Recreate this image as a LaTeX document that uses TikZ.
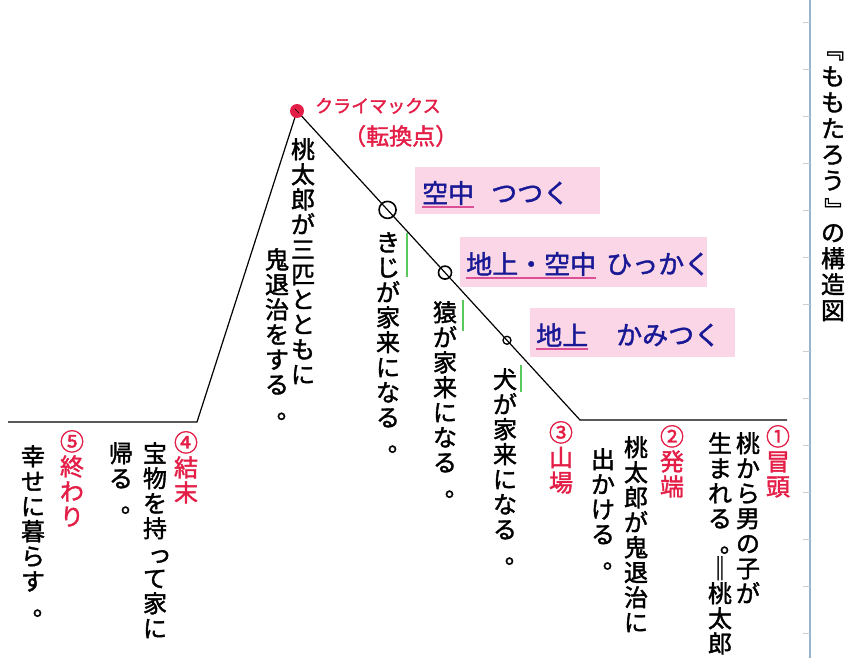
\documentclass[tikz,border=0pt]{standalone}
\usepackage{fontspec}
\usepackage{graphicx}
\usetikzlibrary{calc}
\newfontfamily\jpv{Noto Sans CJK JP}[FakeBold=1.6]
\newfontfamily\jph{Noto Sans CJK JP}[FakeBold=1.6]
\definecolor{hred}{RGB}{228,30,70}
\definecolor{hblue}{RGB}{25,25,150}
\definecolor{hpink}{RGB}{250,214,230}
\definecolor{uline}{RGB}{220,80,150}
\definecolor{hgreen}{RGB}{90,200,90}
\definecolor{pageline}{RGB}{150,180,205}
\definecolor{tickc}{RGB}{200,205,210}
% small kana in vertical writing: shifted to the right
\newcommand\sk[1]{\makebox[1em][l]{\hspace{0.2em}\raisebox{0em}[0.8em][0pt]{#1}}}
% full stop in vertical writing: right half of its cell
\newcommand\vp{\makebox[1em][l]{\hspace{0.5em}｡}}
% rotated brackets for vertical writing
\newcommand\vbo{\raisebox{0pt}[0.8em][0pt]{\rotatebox[origin=c]{-90}{『}}}
\newcommand\vbc{\raisebox{0pt}[0.8em][0pt]{\rotatebox[origin=c]{-90}{』}}}
\ExplSyntaxOn
\NewDocumentCommand\vstack{m}{
  \seq_clear:N \l_tmpa_seq
  \tl_map_inline:nn {#1} { \seq_put_right:Nn \l_tmpa_seq {##1} }
  \seq_use:Nn \l_tmpa_seq {\\}
}
\ExplSyntaxOff
\begin{document}
\begin{tikzpicture}[x=1pt,y=-1pt,
  vt/.style={anchor=north, align=center, inner sep=0pt, text=black,
    font=\jpv\fontsize{24}{25}\selectfont},
  hdr/.style={vt, text=hred},
  ttl/.style={vt, font=\jpv\fontsize{24}{26}\selectfont},
  pinkbox/.style={fill=hpink, draw=none, inner sep=0pt, anchor=north west},
  btext/.style={anchor=west, inner sep=0pt, text=hblue, font=\jph\fontsize{26}{26}\selectfont},
  ul/.style={uline, line width=1.6pt},
  gline/.style={hgreen, line width=2.2pt},
  curve/.style={black, line width=1.2pt},
  ring/.style={circle, draw=black, line width=1.6pt, inner sep=0pt},
  redtext/.style={anchor=west, inner sep=0pt, text=hred}
]
\useasboundingbox (0,0) rectangle (847,658);
\fill[white] (0,0) rectangle (847,658);

% page line with ticks
\draw[pageline, line width=1.5pt] (810,0) -- (810,658);
\foreach \yy in {22,69,116,163,210,257,304,351,398,445,492,539,586,633}
  \draw[tickc, line width=0.8pt] (803,\yy) -- (810,\yy);

% plot line
\coordinate (L0) at (8,422);
\coordinate (L1) at (197,422);
\coordinate (P) at (297,111);
\coordinate (R1) at (580,420);
\coordinate (R0) at (787,420);
\draw[curve] (L0) -- (L1) -- (P) -- (R1) -- (R0);

\node[circle, fill=hred, minimum size=14pt, inner sep=0pt] (peak) at (P) {};
\draw[black, line width=0.6pt] ($(peak.center)+(-2,-2)$) -- ($(peak.center)+(2,2)$);

\node[ring, minimum size=17pt] (c1) at ($(P)!0.32!(R1)$) {};
\node[ring, minimum size=13pt] (c2) at ($(P)!0.523!(R1)$) {};
\node[ring, minimum size=8pt, line width=1.3pt] (c3) at ($(P)!0.742!(R1)$) {};

% climax label
\node[redtext, font=\jph\fontsize{18}{18}\selectfont] (climax) at (315,106) {クライマックス};
\node[redtext, font=\jph\fontsize{23}{23}\selectfont] (tenkan) at (343,136) {（転換点）};

% pink boxes
\node[pinkbox, minimum width=185pt, minimum height=47pt] (box1) at (415,167) {};
\node[pinkbox, minimum width=247pt, minimum height=50pt] (box2) at (460,237) {};
\node[pinkbox, minimum width=205pt, minimum height=49pt] (box3) at (530,308) {};

\node[btext] (b1a) at (422,193) {空中};
\node[btext] (b1b) at (491,193) {つつく};
\draw[ul] ($(b1a.south west)+(0,2)$) -- ($(b1a.south east)+(0,2)$);

\node[btext] (b2a) at (466,264) {地上・空中};
\node[btext] (b2b) at (606,264) {ひっかく};
\draw[ul] ($(b2a.south west)+(0,2)$) -- ($(b2a.south east)+(0,2)$);

\node[btext] (b3a) at (536,335) {地上};
\node[btext] (b3b) at (616,335) {かみつく};
\draw[ul] ($(b3a.south west)+(0,2)$) -- ($(b3a.south east)+(0,2)$);

% green side lines
\coordinate (g1a) at (407,233); \coordinate (g1b) at (407,277);
\coordinate (g2a) at (463,300); \coordinate (g2b) at (463,331);
\coordinate (g3a) at (521,365); \coordinate (g3b) at (521,392);
\draw[gline] (g1a) -- (g1b);
\draw[gline] (g2a) -- (g2b);
\draw[gline] (g3a) -- (g3b);

% title
\node[ttl] (title) at (833,40) {\vstack{{\vbo}ももたろう{\vbc}の構造図}};

% climax columns
\node[vt] (m1) at (303,138) {\vstack{桃太郎が三匹とともに}};
\node[vt] (m2) at (277,248) {\vstack{鬼退治をする{\vp}}};

% helpers
\node[vt] (kiji) at (388,232) {\vstack{きじが家来になる{\vp}}};
\node[vt] (saru) at (445,301) {\vstack{猿が家来になる{\vp}}};
\node[vt] (inu) at (505,368) {\vstack{犬が家来になる{\vp}}};

% sections
\node[hdr] (h3) at (561,421) {\vstack{③山場}};

\node[hdr] (h1) at (778,425) {\vstack{①冒頭}};
\node[vt] (s1a) at (748,432) {\vstack{桃から男の子が}};
\node[vt] (s1b) at (720,432) {\vstack{生まれる{\vp}‖桃太郎}};

\node[hdr] (h2) at (672,425) {\vstack{②発端}};
\node[vt] (s2a) at (636,436) {\vstack{桃太郎が鬼退治に}};
\node[vt] (s2b) at (603,448) {\vstack{出かける{\vp}}};

\node[hdr] (h4) at (186,431) {\vstack{④結末}};
\node[vt] (s4a) at (155,442) {\vstack{宝物を持{\sk{っ}}て家に}};
\node[vt] (s4b) at (121,442) {\vstack{帰る{\vp}}};

\node[hdr] (h5) at (72,430) {\vstack{⑤終わり}};
\node[vt] (s5) at (33,445) {\vstack{幸せに暮らす{\vp}}};
\end{tikzpicture}
\end{document}
